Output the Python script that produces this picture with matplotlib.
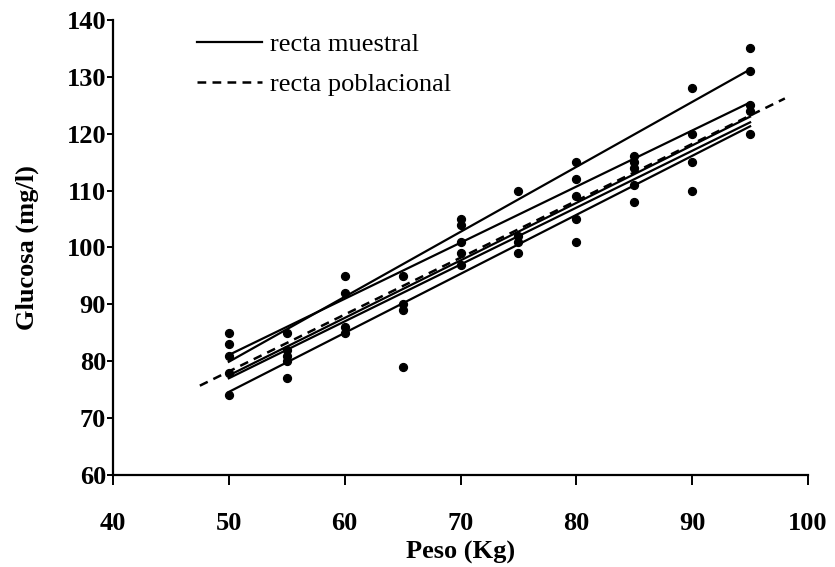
import matplotlib.pyplot as plt
from matplotlib.lines import Line2D

plt.rcParams['font.family'] = ['Liberation Serif', 'DejaVu Serif']

# Observed weight (Kg) and glucose (mg/l) values
peso = [50, 50, 50, 50, 50,
        55, 55, 55, 55, 55,
        60, 60, 60, 60,
        65, 65, 65, 65,
        70, 70, 70, 70, 70,
        75, 75, 75, 75,
        80, 80, 80, 80, 80,
        85, 85, 85, 85, 85,
        90, 90, 90, 90,
        95, 95, 95, 95, 95]
glucosa = [85, 83, 81, 78, 74,
           85, 82, 81, 80, 77,
           95, 92, 86, 85,
           95, 90, 89, 79,
           105, 104, 101, 99, 97,
           110, 102, 101, 99,
           115, 112, 109, 105, 101,
           116, 115, 114, 111, 108,
           128, 120, 115, 110,
           135, 131, 125, 124, 120]

# Sample regression lines: fitted values at x = 50 and x = 95
muestral_x = [50, 95]
muestral_y = [[79.9, 131.3],
              [81.1, 125.5],
              [77.5, 123.0],
              [77.0, 122.0],
              [74.6, 121.3]]

# Population regression line endpoints
poblacional_x = [47.5, 98.0]
poblacional_y = [75.7, 126.2]

fig = plt.figure(figsize=(8.35, 5.67), dpi=100)
ax = fig.add_axes([0.1353, 0.1623, 0.8324, 0.8025])

ax.scatter(peso, glucosa, s=32, color='black', zorder=3)
for ys in muestral_y:
    ax.plot(muestral_x, ys, color='black', lw=1.6)
ax.plot(poblacional_x, poblacional_y, color='black', lw=1.8, dashes=(3.5, 2.5))

ax.set_xlim(40, 100)
ax.set_ylim(60, 140)
ax.set_xticks(range(40, 101, 10))
ax.set_yticks(range(60, 141, 10))

for side in ['top', 'right']:
    ax.spines[side].set_visible(False)
for side in ['left', 'bottom']:
    ax.spines[side].set_linewidth(1.6)

ax.tick_params(axis='x', direction='out', length=7, width=1.4, pad=20, labelsize=19)
ax.tick_params(axis='y', direction='out', length=4, width=1.4, pad=1, labelsize=19)
for lab in ax.get_xticklabels() + ax.get_yticklabels():
    lab.set_fontweight('bold')

ax.set_xlabel('Peso (Kg)', fontsize=19, fontweight='bold', labelpad=4)
ax.set_ylabel('Glucosa (mg/l)', fontsize=19, fontweight='bold', labelpad=20)

handles = [Line2D([], [], color='black', lw=1.6),
           Line2D([], [], color='black', lw=1.8, dashes=(3.5, 2.5))]
ax.legend(handles, ['recta muestral', 'recta poblacional'], frameon=False,
          loc='upper left', bbox_to_anchor=(0.086, 1.025), fontsize=19,
          handlelength=2.5, handletextpad=0.3, labelspacing=0.65)

plt.savefig('out.png', dpi=100)
